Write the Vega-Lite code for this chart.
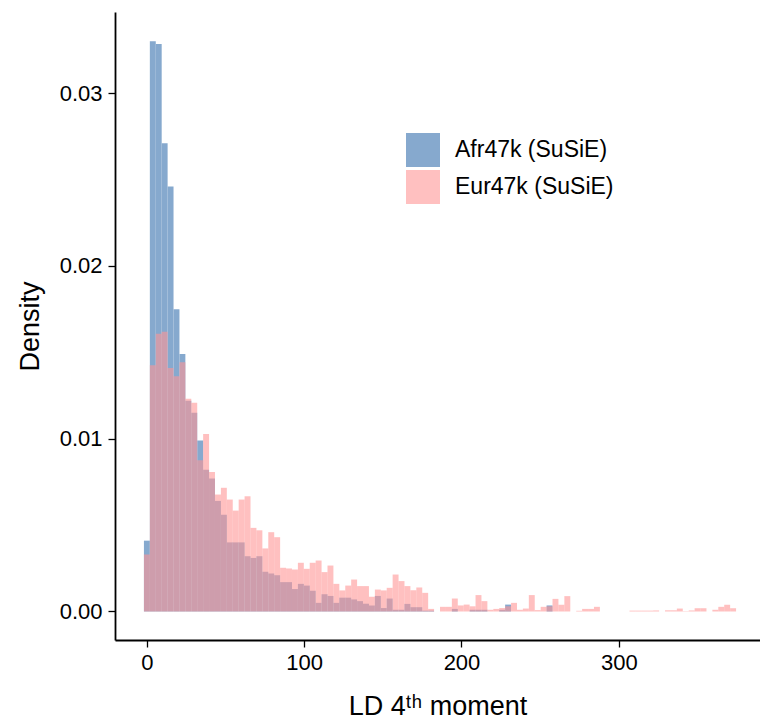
{
"$schema": "https://vega.github.io/schema/vega-lite/v6.json",
"width": 645, "height": 628,
"autosize": {"type": "none"},
"padding": {"left": 115, "top": 12, "right": 0, "bottom": 84},
"config": {
  "view": {"stroke": null},
  "font": "Liberation Sans",
  "axis": {"grid": false, "domainColor": "black", "domainWidth": 1.8, "tickColor": "black", "tickWidth": 1.3, "tickSize": 7, "labelColor": "black", "labelFontSize": 22, "titleFontSize": 27, "titleFontWeight": "normal", "titleColor": "black", "labelPadding": 5}
},
"data": {"values": [
{"g":"Afr47k (SuSiE)","x0":-1.91,"x1":1.855,"d":0.0041},
{"g":"Afr47k (SuSiE)","x0":1.855,"x1":5.62,"d":0.0330},
{"g":"Afr47k (SuSiE)","x0":5.62,"x1":9.385,"d":0.03285},
{"g":"Afr47k (SuSiE)","x0":9.385,"x1":13.15,"d":0.0271},
{"g":"Afr47k (SuSiE)","x0":13.15,"x1":16.915,"d":0.0246},
{"g":"Afr47k (SuSiE)","x0":16.915,"x1":20.68,"d":0.0175},
{"g":"Afr47k (SuSiE)","x0":20.68,"x1":24.445,"d":0.0149},
{"g":"Afr47k (SuSiE)","x0":24.445,"x1":28.21,"d":0.0122},
{"g":"Afr47k (SuSiE)","x0":28.21,"x1":31.975,"d":0.0115},
{"g":"Afr47k (SuSiE)","x0":31.975,"x1":35.74,"d":0.0099},
{"g":"Afr47k (SuSiE)","x0":35.74,"x1":39.505,"d":0.0082},
{"g":"Afr47k (SuSiE)","x0":39.505,"x1":43.27,"d":0.0077},
{"g":"Afr47k (SuSiE)","x0":43.27,"x1":47.035,"d":0.0064},
{"g":"Afr47k (SuSiE)","x0":47.035,"x1":50.8,"d":0.0056},
{"g":"Afr47k (SuSiE)","x0":50.8,"x1":54.565,"d":0.0040},
{"g":"Afr47k (SuSiE)","x0":54.565,"x1":58.33,"d":0.0040},
{"g":"Afr47k (SuSiE)","x0":58.33,"x1":62.095,"d":0.0040},
{"g":"Afr47k (SuSiE)","x0":62.095,"x1":65.86,"d":0.0032},
{"g":"Afr47k (SuSiE)","x0":65.86,"x1":69.625,"d":0.0031},
{"g":"Afr47k (SuSiE)","x0":69.625,"x1":73.39,"d":0.0032},
{"g":"Afr47k (SuSiE)","x0":73.39,"x1":77.155,"d":0.0023},
{"g":"Afr47k (SuSiE)","x0":77.155,"x1":80.92,"d":0.0022},
{"g":"Afr47k (SuSiE)","x0":80.92,"x1":84.685,"d":0.0021},
{"g":"Afr47k (SuSiE)","x0":84.685,"x1":88.45,"d":0.0017},
{"g":"Afr47k (SuSiE)","x0":88.45,"x1":92.215,"d":0.0017},
{"g":"Afr47k (SuSiE)","x0":92.215,"x1":95.98,"d":0.0013},
{"g":"Afr47k (SuSiE)","x0":95.98,"x1":99.745,"d":0.0016},
{"g":"Afr47k (SuSiE)","x0":99.745,"x1":103.51,"d":0.0015},
{"g":"Afr47k (SuSiE)","x0":103.51,"x1":107.275,"d":0.0012},
{"g":"Afr47k (SuSiE)","x0":107.275,"x1":111.04,"d":0.0005},
{"g":"Afr47k (SuSiE)","x0":111.04,"x1":114.805,"d":0.0010},
{"g":"Afr47k (SuSiE)","x0":114.805,"x1":118.57,"d":0.0009},
{"g":"Afr47k (SuSiE)","x0":118.57,"x1":122.335,"d":0.0005},
{"g":"Afr47k (SuSiE)","x0":122.335,"x1":126.1,"d":0.0008},
{"g":"Afr47k (SuSiE)","x0":126.1,"x1":129.865,"d":0.0008},
{"g":"Afr47k (SuSiE)","x0":129.865,"x1":133.63,"d":0.0007},
{"g":"Afr47k (SuSiE)","x0":133.63,"x1":137.395,"d":0.0006},
{"g":"Afr47k (SuSiE)","x0":137.395,"x1":141.16,"d":0.00045},
{"g":"Afr47k (SuSiE)","x0":141.16,"x1":144.925,"d":0.00035},
{"g":"Afr47k (SuSiE)","x0":144.925,"x1":148.69,"d":0.0009},
{"g":"Afr47k (SuSiE)","x0":148.69,"x1":152.455,"d":0.0002},
{"g":"Afr47k (SuSiE)","x0":152.455,"x1":156.22,"d":0.00075},
{"g":"Afr47k (SuSiE)","x0":156.22,"x1":159.985,"d":0.0001},
{"g":"Afr47k (SuSiE)","x0":159.985,"x1":163.75,"d":0.0001},
{"g":"Afr47k (SuSiE)","x0":163.75,"x1":167.515,"d":0.00044},
{"g":"Afr47k (SuSiE)","x0":167.515,"x1":171.28,"d":0.00025},
{"g":"Afr47k (SuSiE)","x0":171.28,"x1":175.045,"d":0.00025},
{"g":"Afr47k (SuSiE)","x0":175.045,"x1":178.81,"d":0.00005},
{"g":"Afr47k (SuSiE)","x0":178.81,"x1":182.575,"d":0.00005},
{"g":"Afr47k (SuSiE)","x0":193.87,"x1":197.635,"d":0.00015},
{"g":"Afr47k (SuSiE)","x0":205.165,"x1":208.93,"d":0.0001},
{"g":"Afr47k (SuSiE)","x0":208.93,"x1":212.695,"d":0.0001},
{"g":"Afr47k (SuSiE)","x0":212.695,"x1":216.46,"d":0.0001},
{"g":"Afr47k (SuSiE)","x0":223.99,"x1":227.755,"d":0.0001},
{"g":"Afr47k (SuSiE)","x0":227.755,"x1":231.52,"d":0.0004},
{"g":"Afr47k (SuSiE)","x0":254.11,"x1":257.875,"d":0.00035},
{"g":"Eur47k (SuSiE)","x0":-1.91,"x1":1.855,"d":0.0033},
{"g":"Eur47k (SuSiE)","x0":1.855,"x1":5.62,"d":0.01425},
{"g":"Eur47k (SuSiE)","x0":5.62,"x1":9.385,"d":0.01607},
{"g":"Eur47k (SuSiE)","x0":9.385,"x1":13.15,"d":0.01619},
{"g":"Eur47k (SuSiE)","x0":13.15,"x1":16.915,"d":0.0141},
{"g":"Eur47k (SuSiE)","x0":16.915,"x1":20.68,"d":0.01362},
{"g":"Eur47k (SuSiE)","x0":20.68,"x1":24.445,"d":0.01443},
{"g":"Eur47k (SuSiE)","x0":24.445,"x1":28.21,"d":0.01231},
{"g":"Eur47k (SuSiE)","x0":28.21,"x1":31.975,"d":0.01208},
{"g":"Eur47k (SuSiE)","x0":31.975,"x1":35.74,"d":0.00876},
{"g":"Eur47k (SuSiE)","x0":35.74,"x1":39.505,"d":0.01028},
{"g":"Eur47k (SuSiE)","x0":39.505,"x1":43.27,"d":0.00808},
{"g":"Eur47k (SuSiE)","x0":43.27,"x1":47.035,"d":0.00677},
{"g":"Eur47k (SuSiE)","x0":47.035,"x1":50.8,"d":0.00716},
{"g":"Eur47k (SuSiE)","x0":50.8,"x1":54.565,"d":0.00648},
{"g":"Eur47k (SuSiE)","x0":54.565,"x1":58.33,"d":0.00584},
{"g":"Eur47k (SuSiE)","x0":58.33,"x1":62.095,"d":0.00648},
{"g":"Eur47k (SuSiE)","x0":62.095,"x1":65.86,"d":0.00667},
{"g":"Eur47k (SuSiE)","x0":65.86,"x1":69.625,"d":0.00484},
{"g":"Eur47k (SuSiE)","x0":69.625,"x1":73.39,"d":0.0047},
{"g":"Eur47k (SuSiE)","x0":73.39,"x1":77.155,"d":0.00365},
{"g":"Eur47k (SuSiE)","x0":77.155,"x1":80.92,"d":0.00459},
{"g":"Eur47k (SuSiE)","x0":80.92,"x1":84.685,"d":0.0043},
{"g":"Eur47k (SuSiE)","x0":84.685,"x1":88.45,"d":0.00253},
{"g":"Eur47k (SuSiE)","x0":88.45,"x1":92.215,"d":0.00249},
{"g":"Eur47k (SuSiE)","x0":92.215,"x1":95.98,"d":0.00243},
{"g":"Eur47k (SuSiE)","x0":95.98,"x1":99.745,"d":0.00282},
{"g":"Eur47k (SuSiE)","x0":99.745,"x1":103.51,"d":0.00247},
{"g":"Eur47k (SuSiE)","x0":103.51,"x1":107.275,"d":0.00282},
{"g":"Eur47k (SuSiE)","x0":107.275,"x1":111.04,"d":0.00295},
{"g":"Eur47k (SuSiE)","x0":111.04,"x1":114.805,"d":0.00228},
{"g":"Eur47k (SuSiE)","x0":114.805,"x1":118.57,"d":0.00266},
{"g":"Eur47k (SuSiE)","x0":118.57,"x1":122.335,"d":0.0016},
{"g":"Eur47k (SuSiE)","x0":122.335,"x1":126.1,"d":0.00122},
{"g":"Eur47k (SuSiE)","x0":126.1,"x1":129.865,"d":0.0015},
{"g":"Eur47k (SuSiE)","x0":129.865,"x1":133.63,"d":0.00185},
{"g":"Eur47k (SuSiE)","x0":133.63,"x1":137.395,"d":0.00147},
{"g":"Eur47k (SuSiE)","x0":137.395,"x1":141.16,"d":0.00147},
{"g":"Eur47k (SuSiE)","x0":141.16,"x1":144.925,"d":0.00085},
{"g":"Eur47k (SuSiE)","x0":144.925,"x1":148.69,"d":0.00127},
{"g":"Eur47k (SuSiE)","x0":148.69,"x1":152.455,"d":0.00122},
{"g":"Eur47k (SuSiE)","x0":152.455,"x1":156.22,"d":0.00137},
{"g":"Eur47k (SuSiE)","x0":156.22,"x1":159.985,"d":0.00214},
{"g":"Eur47k (SuSiE)","x0":159.985,"x1":163.75,"d":0.00176},
{"g":"Eur47k (SuSiE)","x0":163.75,"x1":167.515,"d":0.00147},
{"g":"Eur47k (SuSiE)","x0":167.515,"x1":171.28,"d":0.00123},
{"g":"Eur47k (SuSiE)","x0":171.28,"x1":175.045,"d":0.00139},
{"g":"Eur47k (SuSiE)","x0":175.045,"x1":178.81,"d":0.00108},
{"g":"Eur47k (SuSiE)","x0":178.81,"x1":182.575,"d":0.00015},
{"g":"Eur47k (SuSiE)","x0":186.34,"x1":190.105,"d":0.00027},
{"g":"Eur47k (SuSiE)","x0":190.105,"x1":193.87,"d":0.00027},
{"g":"Eur47k (SuSiE)","x0":193.87,"x1":197.635,"d":0.00075},
{"g":"Eur47k (SuSiE)","x0":197.635,"x1":201.4,"d":0.00035},
{"g":"Eur47k (SuSiE)","x0":201.4,"x1":205.165,"d":0.0004},
{"g":"Eur47k (SuSiE)","x0":205.165,"x1":208.93,"d":0.0003},
{"g":"Eur47k (SuSiE)","x0":208.93,"x1":212.695,"d":0.00095},
{"g":"Eur47k (SuSiE)","x0":212.695,"x1":216.46,"d":0.0006},
{"g":"Eur47k (SuSiE)","x0":216.46,"x1":220.225,"d":0.0001},
{"g":"Eur47k (SuSiE)","x0":220.225,"x1":223.99,"d":0.00015},
{"g":"Eur47k (SuSiE)","x0":223.99,"x1":227.755,"d":0.0002},
{"g":"Eur47k (SuSiE)","x0":227.755,"x1":231.52,"d":0.0003},
{"g":"Eur47k (SuSiE)","x0":231.52,"x1":235.285,"d":0.0005},
{"g":"Eur47k (SuSiE)","x0":235.285,"x1":239.05,"d":0.0001},
{"g":"Eur47k (SuSiE)","x0":239.05,"x1":242.815,"d":0.00017},
{"g":"Eur47k (SuSiE)","x0":242.815,"x1":246.58,"d":0.00095},
{"g":"Eur47k (SuSiE)","x0":246.58,"x1":250.345,"d":0.00008},
{"g":"Eur47k (SuSiE)","x0":250.345,"x1":254.11,"d":0.00027},
{"g":"Eur47k (SuSiE)","x0":254.11,"x1":257.875,"d":0.0003},
{"g":"Eur47k (SuSiE)","x0":257.875,"x1":261.64,"d":0.00073},
{"g":"Eur47k (SuSiE)","x0":261.64,"x1":265.405,"d":0.00039},
{"g":"Eur47k (SuSiE)","x0":265.405,"x1":269.17,"d":0.00089},
{"g":"Eur47k (SuSiE)","x0":272.935,"x1":276.7,"d":0.00004},
{"g":"Eur47k (SuSiE)","x0":276.7,"x1":280.465,"d":0.00015},
{"g":"Eur47k (SuSiE)","x0":280.465,"x1":284.23,"d":0.00015},
{"g":"Eur47k (SuSiE)","x0":284.23,"x1":287.995,"d":0.00027},
{"g":"Eur47k (SuSiE)","x0":306.82,"x1":310.585,"d":0.00005},
{"g":"Eur47k (SuSiE)","x0":310.585,"x1":314.35,"d":0.00005},
{"g":"Eur47k (SuSiE)","x0":314.35,"x1":318.115,"d":0.00005},
{"g":"Eur47k (SuSiE)","x0":318.115,"x1":321.88,"d":0.00005},
{"g":"Eur47k (SuSiE)","x0":321.88,"x1":325.645,"d":0.00006},
{"g":"Eur47k (SuSiE)","x0":329.41,"x1":333.175,"d":0.00007},
{"g":"Eur47k (SuSiE)","x0":333.175,"x1":336.94,"d":0.00007},
{"g":"Eur47k (SuSiE)","x0":336.94,"x1":340.705,"d":0.00017},
{"g":"Eur47k (SuSiE)","x0":340.705,"x1":344.47,"d":0.00002},
{"g":"Eur47k (SuSiE)","x0":344.47,"x1":348.235,"d":0.00006},
{"g":"Eur47k (SuSiE)","x0":348.235,"x1":352.0,"d":0.00019},
{"g":"Eur47k (SuSiE)","x0":352.0,"x1":355.765,"d":0.00019},
{"g":"Eur47k (SuSiE)","x0":359.53,"x1":363.295,"d":0.0001},
{"g":"Eur47k (SuSiE)","x0":363.295,"x1":367.06,"d":0.00027},
{"g":"Eur47k (SuSiE)","x0":367.06,"x1":370.825,"d":0.00039},
{"g":"Eur47k (SuSiE)","x0":370.825,"x1":374.59,"d":0.00019}
]},
"mark": {"type": "bar"},
"encoding": {
  "x": {"field": "x0", "type": "quantitative", "scale": {"domain": [-20.3, 389.8], "nice": false, "zero": false}, "axis": {"values": [0, 100, 200, 300], "title": "LD 4ᵗʰ moment", "titlePadding": 20}},
  "x2": {"field": "x1"},
  "y": {"field": "d", "type": "quantitative", "stack": null, "scale": {"domain": [-0.00165, 0.0347], "nice": false, "zero": false}, "axis": {"values": [0, 0.01, 0.02, 0.03], "format": ".2f", "title": "Density", "titlePadding": 15, "labelPadding": 6}},
  "y2": {"datum": 0},
  "color": {"field": "g", "type": "nominal", "scale": {"domain": ["Afr47k (SuSiE)", "Eur47k (SuSiE)"], "range": ["#86A9CE", "rgba(255,150,150,0.6)"]}, "legend": {"orient": "none", "legendX": 291, "legendY": 121, "title": null, "symbolType": "square", "symbolSize": 1156, "symbolStrokeWidth": 0, "symbolOpacity": 1, "labelFontSize": 23, "labelOffset": 15, "rowPadding": 3, "padding": 0, "labelColor": "black"}}
}
}
